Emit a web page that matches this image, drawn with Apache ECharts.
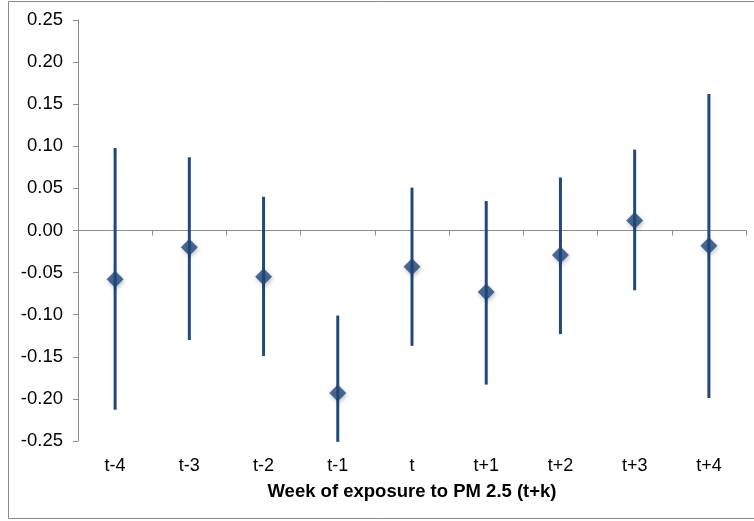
<!DOCTYPE html>
<html>
<head>
<meta charset="utf-8">
<script src="https://cdn.jsdelivr.net/npm/echarts@6/dist/echarts.min.js"></script>
<style>
  html, body { margin: 0; padding: 0; background: #ffffff; }
  #chart { width: 754px; height: 521px; }
</style>
</head>
<body>
<div id="chart"></div>
<script>
const categories = ["t-4", "t-3", "t-2", "t-1", "t", "t+1", "t+2", "t+3", "t+4"];
const estimates = [-0.058, -0.020, -0.055, -0.193, -0.043, -0.073, -0.029, 0.012, -0.018];
const upper = [0.098, 0.087, 0.040, -0.101, 0.051, 0.035, 0.063, 0.096, 0.162];
const lower = [-0.213, -0.130, -0.149, -0.251, -0.137, -0.183, -0.123, -0.071, -0.199];

const navy = "#1f497d";
const chart = echarts.init(document.getElementById("chart"));

const option = {
  animation: false,
  textStyle: { fontFamily: "Liberation Sans, Arial, sans-serif" },
  graphic: [
    {
      type: "rect",
      shape: { x: 8.5, y: 1.5, width: 800, height: 517 },
      style: { fill: "none", stroke: "#8a8a8a", lineWidth: 1 },
      silent: true,
    },
  ],
  grid: { left: 78, right: 8, top: 20, bottom: 80 },
  xAxis: [
    {
      type: "category",
      data: categories,
      position: "bottom",
      axisLine: { show: false, onZero: false },
      axisTick: { show: false },
      axisLabel: { color: "#000", fontSize: 18, margin: 16 },
      name: "Week of exposure to PM 2.5 (t+k)",
      nameLocation: "middle",
      nameGap: 41,
      nameTextStyle: { color: "#000", fontSize: 18.5, fontWeight: "bold" },
    },
    {
      type: "category",
      data: categories,
      position: "bottom",
      axisLine: { show: true, onZero: true, lineStyle: { color: "#8c8c8c", width: 1 } },
      axisTick: { show: true, length: 5, lineStyle: { color: "#8c8c8c" } },
      axisLabel: { show: false },
    },
  ],
  yAxis: {
    type: "value",
    min: -0.25,
    max: 0.25,
    interval: 0.05,
    axisLine: { show: true, lineStyle: { color: "#8c8c8c" } },
    axisTick: { show: true, length: 5, lineStyle: { color: "#8c8c8c" } },
    splitLine: { show: false },
    axisLabel: {
      color: "#000",
      fontSize: 18.5,
      margin: 15,
      formatter: (v) => v.toFixed(2),
    },
  },
  series: [
    {
      type: "custom",
      xAxisIndex: 0,
      data: categories.map((c, i) => [i, lower[i], upper[i]]),
      renderItem: (params, api) => {
        const lo = api.coord([api.value(0), api.value(1)]);
        const hi = api.coord([api.value(0), api.value(2)]);
        return {
          type: "line",
          shape: { x1: lo[0], y1: lo[1], x2: hi[0], y2: hi[1] },
          style: { stroke: navy, lineWidth: 3 },
        };
      },
      z: 2,
    },
    {
      type: "scatter",
      xAxisIndex: 0,
      data: estimates,
      symbol: "diamond",
      symbolSize: [17, 17],
      itemStyle: {
        color: navy,
        shadowColor: "rgba(0,0,0,0.3)",
        shadowBlur: 4,
        shadowOffsetX: 1,
        shadowOffsetY: 2,
      },
      z: 3,
    },
  ],
};

chart.setOption(option);
</script>
</body>
</html>
